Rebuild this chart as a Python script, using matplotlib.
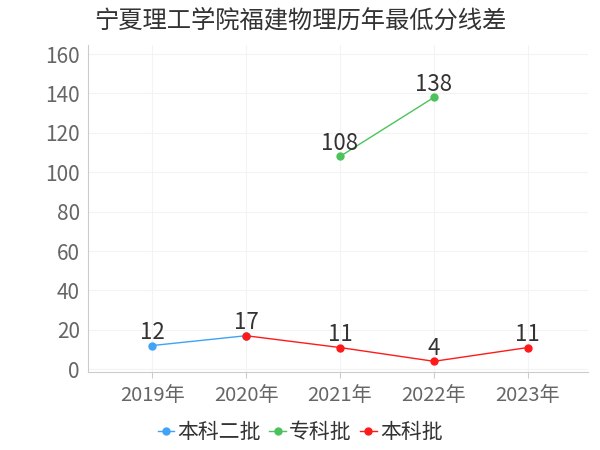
import numpy as np
import matplotlib
matplotlib.use("Agg")
from matplotlib import pyplot as plt

plt.rcParams['font.family'] = ['Noto Sans CJK SC', 'DejaVu Sans']

years = ["2019年", "2020年", "2021年", "2022年", "2023年"]
benke2 = [12, 17, None, None, None]
zhuanke = [None, None, 108, 138, None]
benke = [None, 17, 11, 4, 11]

series = [
    ("本科二批", benke2, "#3fa3f7"),
    ("专科批", zhuanke, "#4cc35a"),
    ("本科批", benke, "#ff1a1a"),
]

fig = plt.figure(figsize=(6, 4.5), dpi=100)
ax = fig.add_axes([0.147, 0.173, 0.833, 0.727])

x = np.arange(len(years))
for name, vals, col in series:
    xs = [i for i, v in zip(x, vals) if v is not None]
    ys = [v for v in vals if v is not None]
    ax.plot(xs, ys, color=col, lw=1, marker="o", ms=5, label=name)

# labels once per point (17 shared by two series)
done = set()
for name, vals, col in series:
    for i, v in zip(x, vals):
        if v is None or (i, v) in done:
            continue
        done.add((i, v))
        ax.text(i, v + 0.8, str(v), ha="center", va="bottom", fontsize=16, color="#333333")

ax.set_xlim(-0.68, 4.64)
ax.set_ylim(-1.5, 164.6)
ax.set_xticks(x)
ax.set_xticklabels(years)
ax.set_yticks(range(0, 161, 20))
ax.tick_params(axis="x", labelsize=14.5, colors="#cccccc", labelcolor="#666666", length=4, pad=5)
ax.tick_params(axis="y", labelsize=15, labelcolor="#666666", length=0, pad=6)
ax.grid(color="#f3f3f3", lw=0.8)
ax.set_axisbelow(True)
for s in ["top", "right"]:
    ax.spines[s].set_visible(False)
ax.spines["left"].set_color("#cccccc")
ax.spines["bottom"].set_color("#cccccc")

fig.text(0.5, 0.955, "宁夏理工学院福建物理历年最低分线差", ha="center", va="center",
         fontsize=17.5, color="#333333")

fig.legend(loc="center", bbox_to_anchor=(0.5, 0.04), ncol=3, frameon=False,
           fontsize=15, handlelength=0.8, handletextpad=0.15, columnspacing=0.4,
           labelcolor="#333333")

fig.savefig("out.png", dpi=100)
